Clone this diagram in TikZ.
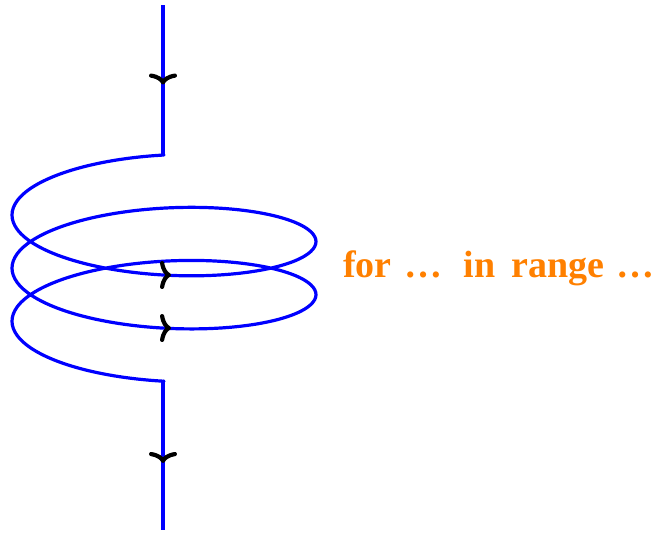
\documentclass[tikz,border=0pt]{standalone}
\usepackage{fontspec}
\setmainfont{Liberation Serif}
\usetikzlibrary{arrows.meta,decorations.markings}
\begin{document}
\begin{tikzpicture}[x=1pt,y=-1pt,
  wire/.style={blue,line width=3.2pt},
  tipmark/.style={decoration={markings,mark=at position #1 with {\arrow{flowtip}}},postaction=decorate},
  flowtip/.tip={Computer Modern Rightarrow[length=11pt,width=28pt,line width=4.2pt,black]},
  lbl/.style={text=orange,font=\bfseries\fontsize{38}{44}\selectfont,inner sep=0pt,anchor=base west}]
\useasboundingbox (0,0) rectangle (661,533);
\coordinate (top) at (163,5);
\coordinate (c0) at (163,155);
\coordinate (c1) at (163,381);
\coordinate (bot) at (163,530);
\draw[wire,tipmark=0.53] (top) -- (c0);
\draw[wire,line join=round] (c0) -- plot[domain=0:900,samples=241,smooth] ({164-152*sin(\x)},{201.75+8.45*rad(\x)-46.75*cos(\x)}) -- (c1);
\draw[wire,tipmark=0.55] (c1) -- (bot);
\coordinate (a1) at (171,275);
\coordinate (a2) at (171,328);
\path[tipmark=1] (150,275) -- (a1);
\path[tipmark=1] (150,328) -- (a2);
\node[lbl] (loop) at (343,277) {for\hspace{13pt}…\hspace{21pt}in\hspace{16pt}range\hspace{12pt}…};
\end{tikzpicture}
\end{document}
